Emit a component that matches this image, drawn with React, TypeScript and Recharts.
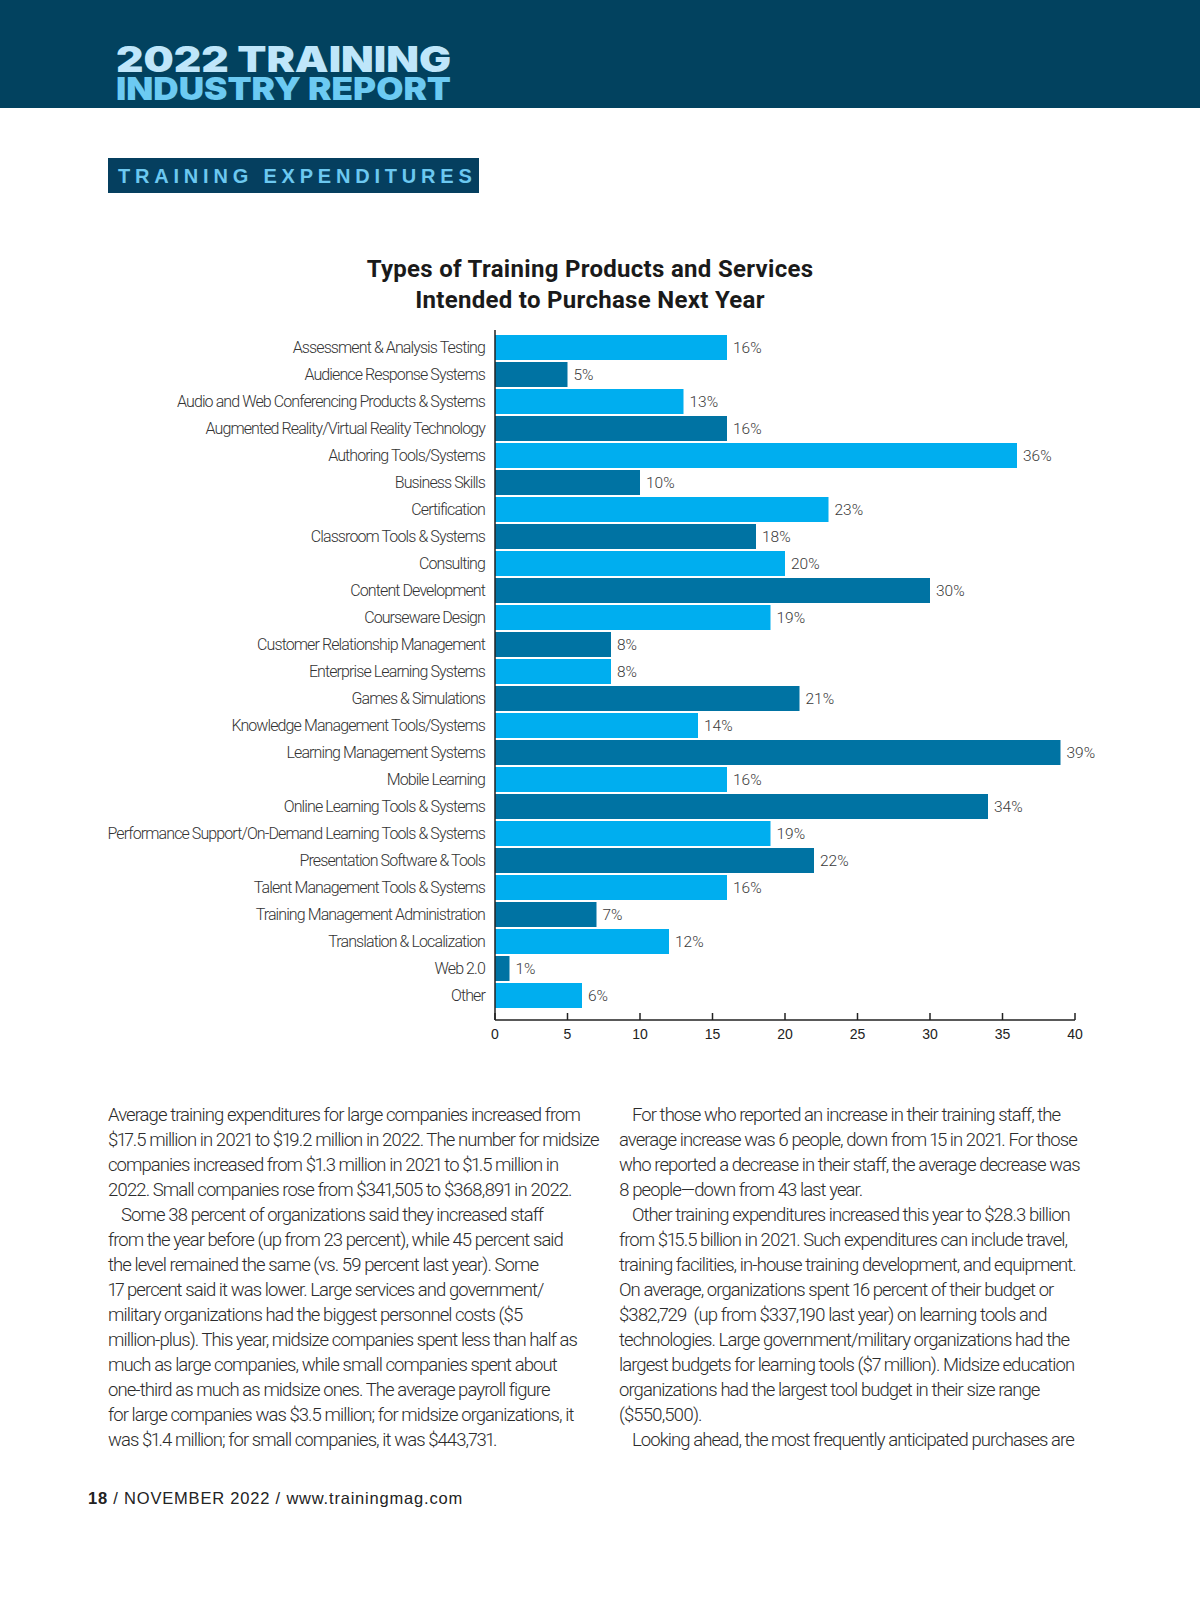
import { BarChart, Bar, XAxis, YAxis, Cell, LabelList } from 'recharts';

const categories = [
  'Assessment & Analysis Testing',
  'Audience Response Systems',
  'Audio and Web Conferencing Products & Systems',
  'Augmented Reality/Virtual Reality Technology',
  'Authoring Tools/Systems',
  'Business Skills',
  'Certification',
  'Classroom Tools & Systems',
  'Consulting',
  'Content Development',
  'Courseware Design',
  'Customer Relationship Management',
  'Enterprise Learning Systems',
  'Games & Simulations',
  'Knowledge Management Tools/Systems',
  'Learning Management Systems',
  'Mobile Learning',
  'Online Learning Tools & Systems',
  'Performance Support/On-Demand Learning Tools & Systems',
  'Presentation Software & Tools',
  'Talent Management Tools & Systems',
  'Training Management Administration',
  'Translation & Localization',
  'Web 2.0',
  'Other',
];

const percents = [16, 5, 13, 16, 36, 10, 23, 18, 20, 30, 19, 8, 8, 21, 14, 39, 16, 34, 19, 22, 16, 7, 12, 1, 6];

const xTicks = [0, 5, 10, 15, 20, 25, 30, 35, 40];

const leftColumn = [
  'Average training expenditures for large companies increased from',
  '$17.5 million in 2021 to $19.2 million in 2022. The number for midsize',
  'companies increased from $1.3 million in 2021 to $1.5 million in',
  '2022. Small companies rose from $341,505 to $368,891 in 2022.',
  '\tSome 38 percent of organizations said they increased staff',
  'from the year before (up from 23 percent), while 45 percent said',
  'the level remained the same (vs. 59 percent last year). Some',
  '17 percent said it was lower. Large services and government/',
  'military organizations had the biggest personnel costs ($5',
  'million-plus). This year, midsize companies spent less than half as',
  'much as large companies, while small companies spent about',
  'one-third as much as midsize ones. The average payroll figure',
  'for large companies was $3.5 million; for midsize organizations, it',
  'was $1.4 million; for small companies, it was $443,731.',
];

const rightColumn = [
  '\tFor those who reported an increase in their training staff, the',
  'average increase was 6 people, down from 15 in 2021. For those',
  'who reported a decrease in their staff, the average decrease was',
  '8 people\u2014down from 43 last year.',
  '\tOther training expenditures increased this year to $28.3 billion',
  'from $15.5 billion in 2021. Such expenditures can include travel,',
  'training facilities, in-house training development, and equipment.',
  'On average, organizations spent 16 percent of their budget or',
  '$382,729  (up from $337,190 last year) on learning tools and',
  'technologies. Large government/military organizations had the',
  'largest budgets for learning tools ($7 million). Midsize education',
  'organizations had the largest tool budget in their size range',
  '($550,500).',
  '\tLooking ahead, the most frequently anticipated purchases are',
];

const LIGHT = '#00aeef';
const DARK = '#0073a3';
const NAVY = '#02425f';

const data = categories.map((name, i) => ({ name, value: percents[i] }));

function XTick({ x, y, payload }: any) {
  return (
    <g>
      <line x1={x} y1={y} x2={x} y2={y - 7} stroke="#222" strokeWidth={1.5} />
      <text
        x={x}
        y={y + 19}
        textAnchor="middle"
        fill="#222"
        fontSize={14}
        fontFamily="'Liberation Sans', Arial, sans-serif"
      >
        {payload.value}
      </text>
    </g>
  );
}

function Column({ lines, x }: { lines: string[]; x: number }) {
  return (
    <>
      {lines.map((line, i) => {
        const indent = line.startsWith('\t');
        return (
          <text
            key={i}
            x={indent ? x + 13 : x}
            y={1121 + i * 25}
            xmlSpace="preserve"
            style={{ whiteSpace: 'pre', fontVariantNumeric: 'proportional-nums' }}
          >
            {line.replace('\t', '')}
          </text>
        );
      })}
    </>
  );
}

export default function App() {
  return (
    <div style={{ position: 'absolute', left: 0, top: 0, width: 1200, height: 1613, background: '#fff' }}>
      <svg width={1200} height={1613} style={{ position: 'absolute', left: 0, top: 0 }}>
        <rect x={0} y={0} width={1200} height={108} fill={NAVY} />
        {/* masthead: two stacked lines, kept in one text element */}
        <text fontFamily="Inter, 'Noto Sans', sans-serif" fontWeight={900}>
          <tspan x={116} y={72} fill="#bfe6fa" fontSize={35} textLength={335} lengthAdjust="spacingAndGlyphs">
            2022 TRAINING
          </tspan>
          <tspan x={116} y={100} fill="#6ccaf2" fontSize={31} textLength={335} lengthAdjust="spacingAndGlyphs">
            INDUSTRY REPORT
          </tspan>
        </text>

        <rect x={108} y={158} width={371} height={35} fill="#053f5f" />
        <text x={118} y={183} fill="#6cc8f0" fontFamily="'Liberation Sans', Arial, sans-serif" fontWeight={700} fontSize={20} letterSpacing={4.8}>
          TRAINING EXPENDITURES
        </text>

        <g fill="#1a1a1a" fontFamily="Roboto, 'Noto Sans', sans-serif" fontWeight={700} fontSize={24} letterSpacing={0.3} textAnchor="middle">
          <text x={590} y={277}>Types of Training Products and Services</text>
          <text x={590} y={308}>Intended to Purchase Next Year</text>
        </g>

        <g fill="#2b2b2b" fontFamily="Roboto, 'Noto Sans', sans-serif" fontWeight={300} fontSize={18.5} letterSpacing={-0.93}>
          <Column lines={leftColumn} x={108} />
          <Column lines={rightColumn} x={619} />
        </g>

        <text x={88} y={1504} fill="#222" fontFamily="'Liberation Sans', Arial, sans-serif" fontSize={16.5} letterSpacing={0.8}>
          <tspan fontWeight={700}>18</tspan>
          <tspan> / NOVEMBER 2022 / www.trainingmag.com</tspan>
        </text>
      </svg>

      <div style={{ position: 'absolute', left: 0, top: 300 }}>
        <BarChart
          width={1200}
          height={760}
          data={data}
          layout="vertical"
          margin={{ top: 30, right: 125, bottom: 10, left: 0 }}
        >
          <XAxis
            type="number"
            domain={[0, 40]}
            ticks={xTicks}
            interval={0}
            height={30}
            tickSize={0}
            tickMargin={0}
            tick={<XTick />}
            axisLine={{ stroke: '#222', strokeWidth: 1.5 }}
          />
          <YAxis
            type="category"
            dataKey="name"
            width={495}
            interval={0}
            tickSize={0}
            tickMargin={10}
            padding={{ top: 4, bottom: 11 }}
            axisLine={{ stroke: '#222', strokeWidth: 1.5 }}
            tick={{ fill: '#333', fontSize: 16, fontFamily: "Roboto, 'Noto Sans', sans-serif", fontWeight: 300, letterSpacing: -0.9 }}
          />
          <Bar dataKey="value" barSize={25} isAnimationActive={false}>
            {data.map((_, i) => (
              <Cell key={`cell-${i}`} fill={i % 2 === 0 ? LIGHT : DARK} />
            ))}
            <LabelList
              dataKey="value"
              position="right"
              offset={6}
              formatter={(v: any) => `${v}%`}
              fill="#3a3a3a"
              fontSize={15.5}
              fontFamily="Roboto, 'Noto Sans', sans-serif"
              fontWeight={300}
            />
          </Bar>
        </BarChart>
      </div>
    </div>
  );
}
